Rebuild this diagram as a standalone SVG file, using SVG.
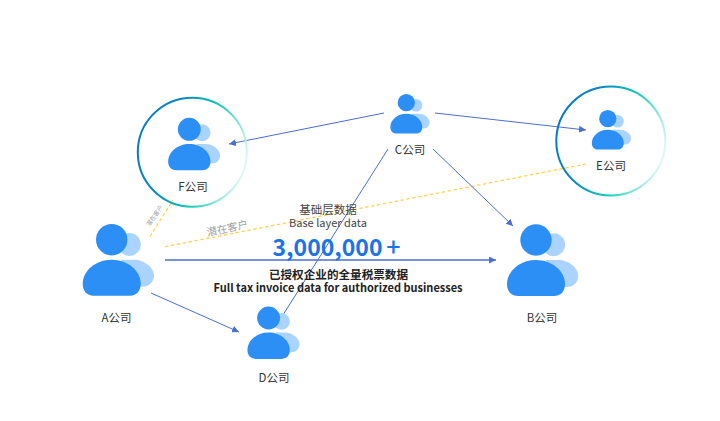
<svg xmlns="http://www.w3.org/2000/svg" width="720" height="421" viewBox="0 0 720 421">
<style>
text{font-family:"Noto Sans CJK SC","Noto Sans",sans-serif;text-anchor:middle}
.lb{font-size:11.5px;fill:#333}
.c{stroke:#4a6fd0;stroke-width:1;fill:none;marker-end:url(#a)}
.d{stroke:#fccf4d;stroke-width:1.2;stroke-dasharray:3.5 2.5;fill:none}
.ring{fill:none;stroke:url(#g);stroke-width:2}
.l{fill:#aad4ff}.m{fill:#2b8ff6}
.s{fill:#a0a0a0}
</style>
<defs>
<linearGradient id="g" x1="0" y1="0.3" x2="1" y2="0.6">
<stop offset="0" stop-color="#0678c8"/><stop offset=".3" stop-color="#0a86c4"/><stop offset=".62" stop-color="#10cbb4"/><stop offset="1" stop-color="#e2f8f6"/>
</linearGradient>
<marker id="a" markerUnits="userSpaceOnUse" markerWidth="9" markerHeight="8" refX="7" refY="3.5" orient="auto"><path d="M0 0L7 3.5L0 7Z" fill="#4a6fd0"/></marker>
<symbol id="p" overflow="visible">
<circle class="l" cx="17.6" cy="4.7" r="11.5"/>
<path class="l" d="M10 20H22C33 20 42.3 28 42.3 36C42.3 42 37.5 47 31 47H10Z"/>
<circle class="m" cx="0" cy="0" r="15.7"/>
<path class="m" d="M-29 44C-29 31 -16 20 0 20C16 20 29 31 29 44C29 51 25 56 18 56H-18C-25 56 -29 51 -29 44Z"/>
</symbol>
</defs>
<rect width="720" height="421" fill="#fff"/>
<g id="connectors">
<path class="d" d="M150 236.500L173 200"/>
<path class="d" d="M165 246.700L586 164"/>
<path class="c" d="M384 113L229 144"/>
<path class="c" d="M435 113L586 130"/>
<path class="c" d="M433 149L513 226"/>
<path class="c" d="M388 149L276 326"/>
<path class="c" d="M165 260H496" style="stroke-width:1.300"/>
<path class="c" d="M151 293L239 332"/>
</g>
<g id="nodeA"><use href="#p" transform="translate(111.700 239.700)"/><text class="lb" x="116.500" y="322">A公司</text></g>
<g id="nodeB"><use href="#p" transform="translate(536 240)"/><text class="lb" x="542" y="322">B公司</text></g>
<g id="nodeC"><use href="#p" transform="translate(406.300 102.700) scale(.55)"/><text class="lb" x="410" y="154">C公司</text></g>
<g id="nodeD"><use href="#p" transform="translate(268.600 318) scale(.73)"/><text class="lb" x="274" y="382">D公司</text></g>
<g id="nodeE"><circle class="ring" cx="610.800" cy="141" r="54.500"/><use href="#p" transform="translate(607.800 118.700) scale(.55)"/><text class="lb" x="611" y="170">E公司</text></g>
<g id="nodeF"><circle class="ring" cx="192.300" cy="152.200" r="54.500"/><use href="#p" transform="translate(189.300 129.300) scale(.73)"/><text class="lb" x="193" y="191">F公司</text></g>
<g id="labels">
<text class="s" font-size="6" transform="translate(156.500 217) rotate(-55)">潜在客户</text>
<text class="s" font-size="10.500" transform="translate(228 232) rotate(-12)">潜在客户</text>
<text x="328" y="214" font-size="11.500" fill="#444">基础层数据</text>
<text x="328" y="227" font-size="11" fill="#444">Base layer data</text>
<text x="327.500" y="256" font-size="23" font-weight="700" fill="#1a73e8">3,000,000</text>
<text x="393.500" y="256" font-size="25" font-weight="500" fill="#1a73e8">+</text>
<text x="338.500" y="279" font-size="11.600" font-weight="700" fill="#222">已授权企业的全量税票数据</text>
<text x="338" y="292" font-size="11" font-weight="700" fill="#222">Full tax invoice data for authorized businesses</text>
</g>
</svg>
